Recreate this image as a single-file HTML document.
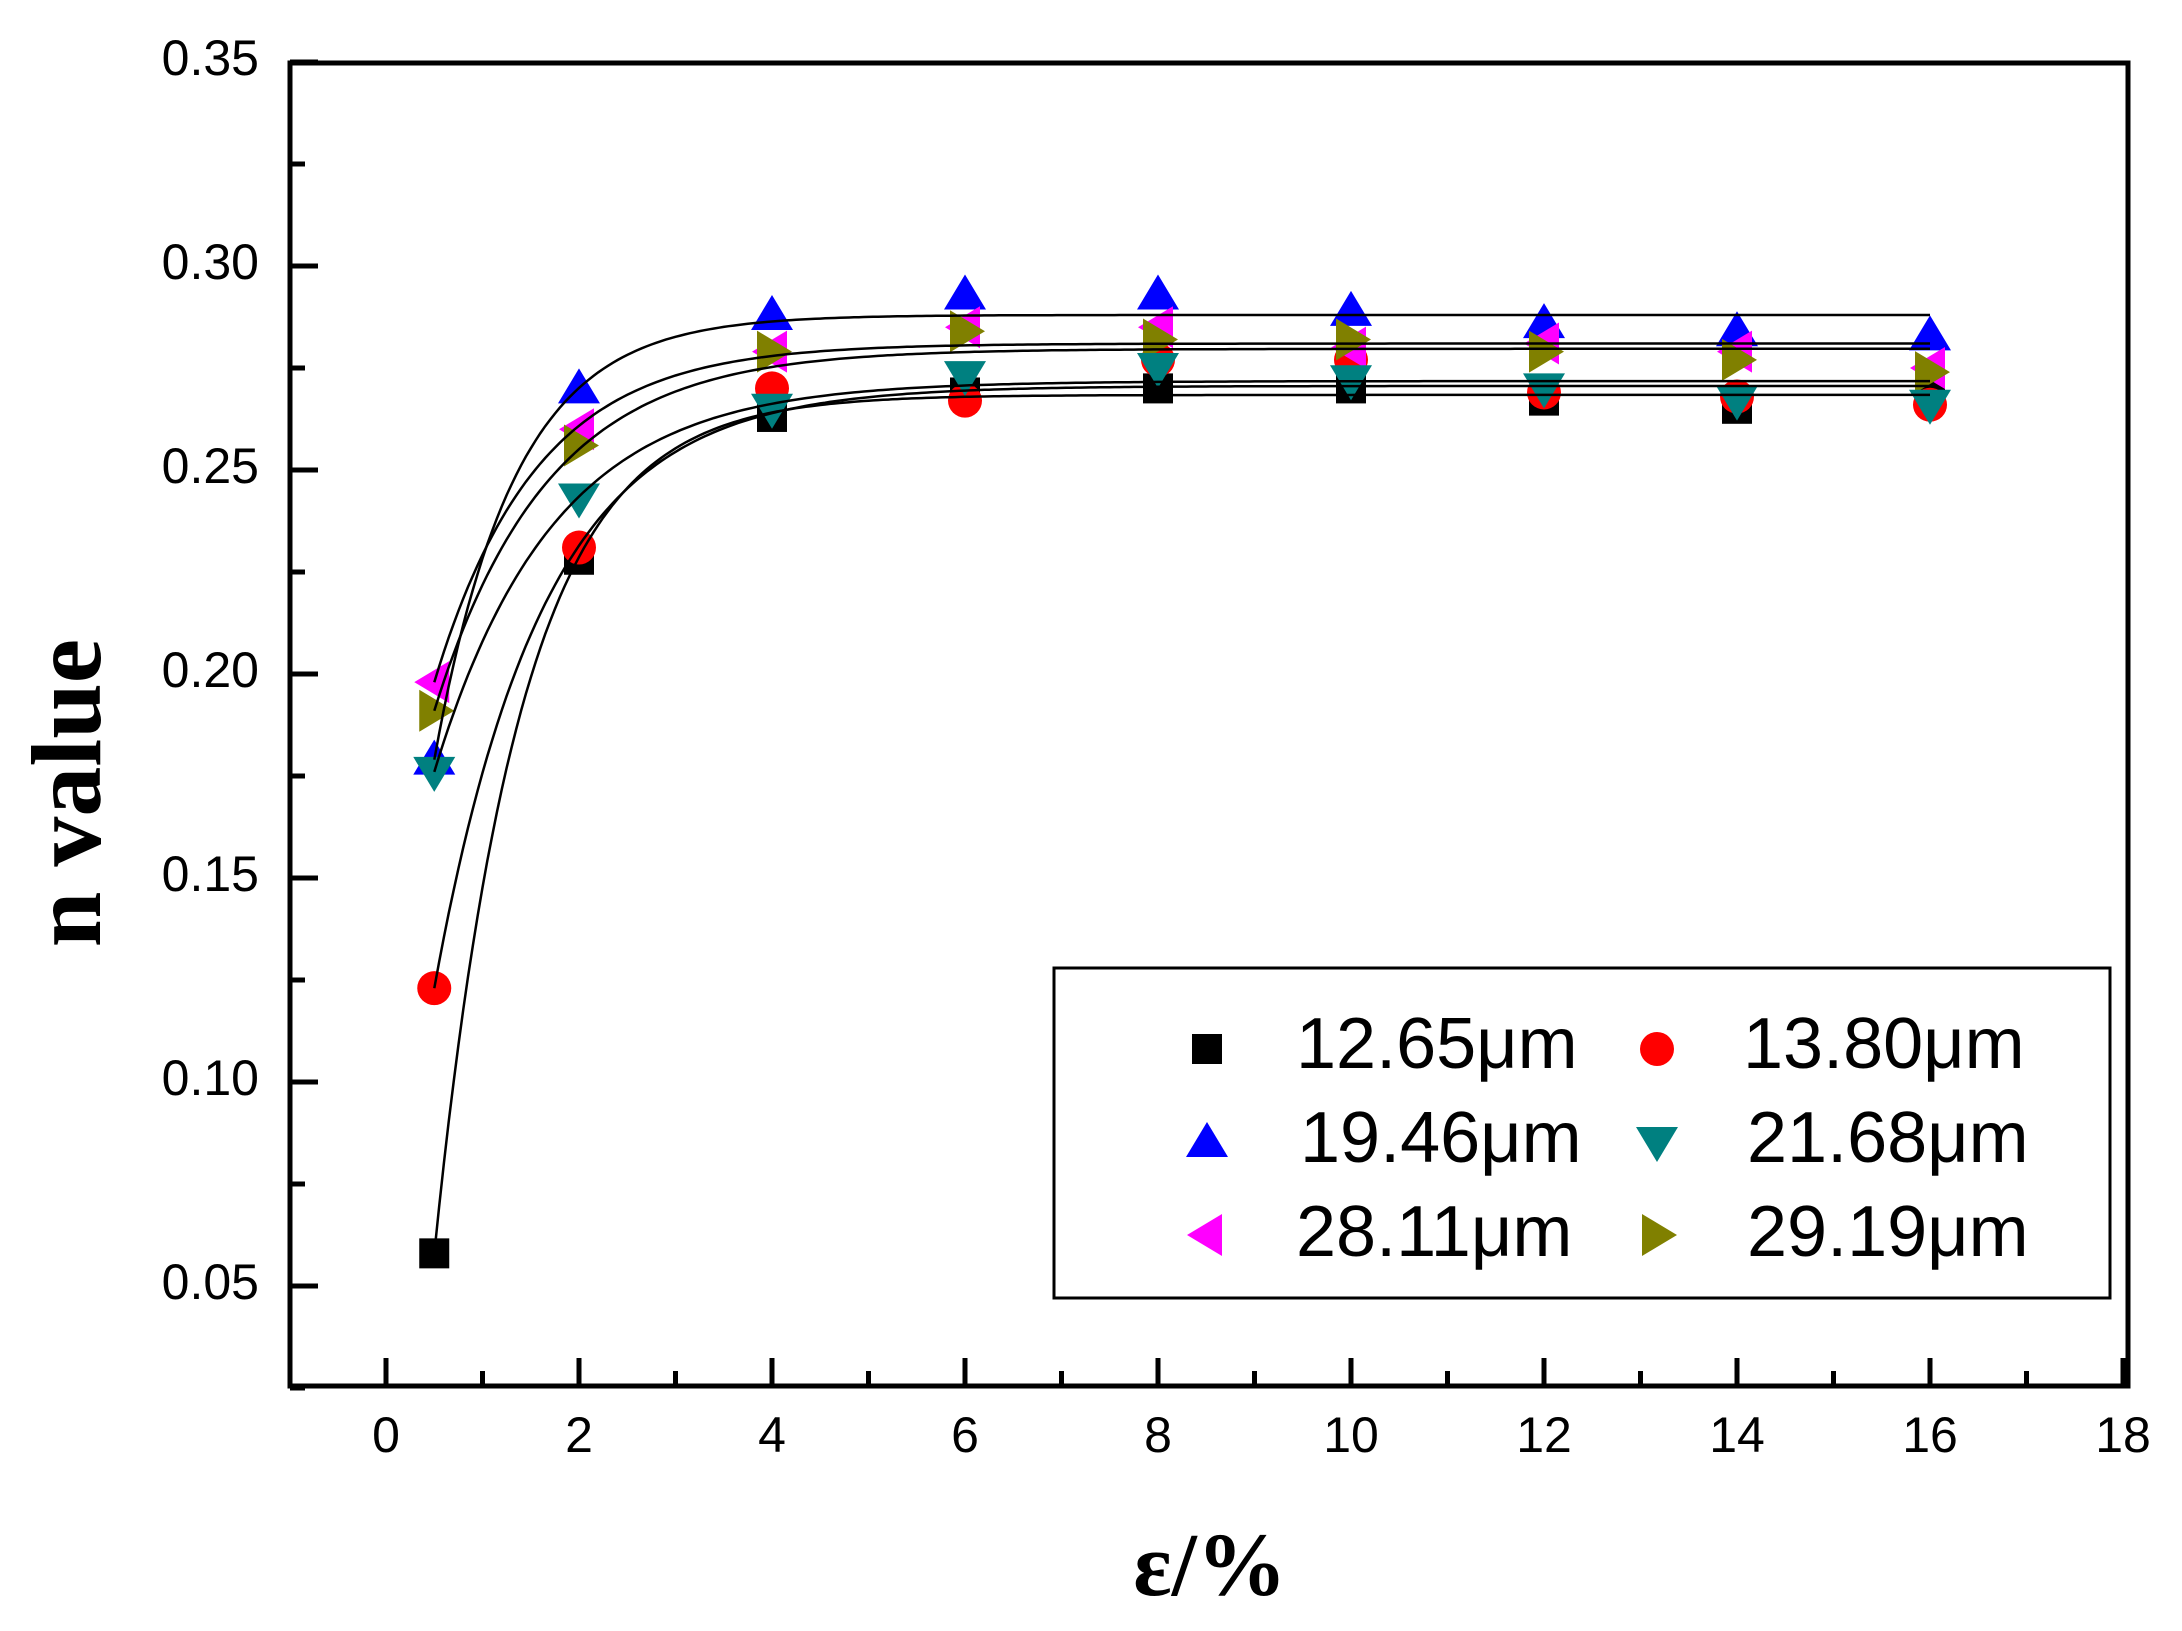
<!DOCTYPE html>
<html><head><meta charset="utf-8"><style>html,body{margin:0;padding:0;background:#fff}svg{display:block}</style></head>
<body>
<svg id="s" xmlns="http://www.w3.org/2000/svg" width="2182" height="1631" viewBox="0 0 2182 1631">
<rect width="2182" height="1631" fill="#fff"/>
<g id="g"></g>
<rect x="290" y="63" width="1838" height="1323" fill="none" stroke="#000" stroke-width="5"/>
<rect x="1054" y="968" width="1056" height="330" fill="none" stroke="#000" stroke-width="3"/>
<g font-family="Liberation Sans, sans-serif" font-size="72" fill="#000">
<text x="1296" y="1068">12.65μm</text><text x="1743" y="1068">13.80μm</text>
<text x="1300" y="1162">19.46μm</text><text x="1747" y="1162">21.68μm</text>
<text x="1296" y="1256">28.11μm</text><text x="1747" y="1256">29.19μm</text>
</g>
<text transform="translate(100,793) rotate(-90)" text-anchor="middle" font-family="Liberation Serif, serif" font-weight="bold" font-size="100">n value</text>
<text x="1210" y="1595" text-anchor="middle" font-family="Liberation Serif, serif" font-weight="bold" font-size="90">ε/%</text>
</svg>
<script>
var g=document.getElementById('g'),h='';
function X(v){return 386+v*96.5}
function Y(v){return 266+(0.30-v)*4080}
for(var i=0;i<=18;i++){var x=X(i),L=(i%2==0)?28:15;h+='<line x1="'+x+'" y1="1386" x2="'+x+'" y2="'+(1386-L)+'" stroke="#000" stroke-width="5"/>';
 if(i%2==0)h+='<text x="'+x+'" y="1452" text-anchor="middle" font-family="Liberation Sans, sans-serif" font-size="50">'+i+'</text>';}
for(var k=0;k<=13;k++){var v=0.025+k*0.025,y=Y(v),maj=(k%2==1);h+='<line x1="290" y1="'+y+'" x2="'+(290+(maj?28:15))+'" y2="'+y+'" stroke="#000" stroke-width="5"/>';
 if(maj)h+='<text x="259" y="'+(y+13)+'" text-anchor="end" font-family="Liberation Sans, sans-serif" font-size="50">'+v.toFixed(2)+'</text>';}
var xs=[0.5,2,4,6,8,10,12,14,16];
var S=[
 {c:'#000',m:'sq',A:0.2684,t:0.9,d:[0.058,0.228,0.263,0.269,0.270,0.270,0.267,0.265,0.270]},
 {c:'#f00',m:'ci',A:0.2706,t:1.13,d:[0.123,0.231,0.270,0.267,0.277,0.277,0.269,0.268,0.266]},
 {c:'#00f',m:'up',A:0.288,t:0.83,d:[0.179,0.270,0.288,0.293,0.293,0.289,0.286,0.284,0.283]},
 {c:'#f0f',m:'lt',A:0.281,t:1.06,d:[0.198,0.260,0.279,0.285,0.285,0.280,0.281,0.279,0.275]},
 {c:'#808000',m:'rt',A:0.2797,t:1.17,d:[0.191,0.256,0.279,0.284,0.282,0.282,0.279,0.277,0.274]},
 {c:'#008080',m:'dn',A:0.2718,t:1.23,d:[0.176,0.243,0.265,0.273,0.275,0.272,0.270,0.267,0.266]}];
function mk(m,c,x,y){
 if(m=='sq')return '<rect x="'+(x-15)+'" y="'+(y-15)+'" width="30" height="30" fill="'+c+'"/>';
 if(m=='ci')return '<circle cx="'+x+'" cy="'+y+'" r="17" fill="'+c+'"/>';
 var p;
 if(m=='up')p=[[x,y-20],[x+21,y+15],[x-21,y+15]];
 if(m=='dn')p=[[x,y+20],[x+21,y-15],[x-21,y-15]];
 if(m=='lt')p=[[x-20,y],[x+15,y-21],[x+15,y+21]];
 if(m=='rt')p=[[x+20,y],[x-15,y-21],[x-15,y+21]];
 return '<polygon points="'+p.map(function(q){return q.join(',')}).join(' ')+'" fill="'+c+'"/>';}
var curves='',marks='';
S.forEach(function(s){var y0=s.d[0],pts=[];
 for(var x=0.5;x<=16.001;x+=0.05){var v=s.A-(s.A-y0)*Math.exp(-(x-0.5)/s.t);pts.push(X(x).toFixed(1)+','+Y(v).toFixed(1));}
 curves+='<polyline points="'+pts.join(' ')+'" fill="none" stroke="#000" stroke-width="2.5"/>';
 xs.forEach(function(x,i){marks+=mk(s.m,s.c,X(x),Y(s.d[i]));});
});
var lg=[['sq','#000',1207,1049],['ci','#f00',1657,1049],['up','#00f',1207,1142],['dn','#008080',1657,1142],['lt','#f0f',1207,1235],['rt','#808000',1657,1235]];
lg.forEach(function(l){marks+=mk(l[0],l[1],l[2],l[3]);});
g.innerHTML=h+marks+curves;
</script>
</body></html>
